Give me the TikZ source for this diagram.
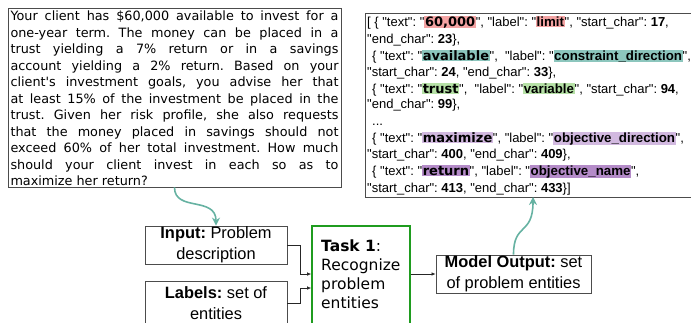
\documentclass[tikz,border=0pt]{standalone}
\usepackage{fontspec}
\newfontfamily\vfont{DejaVu Sans}
\newfontfamily\afont{Liberation Sans}
\usetikzlibrary{arrows.meta,positioning}

\definecolor{pinkhl}{HTML}{F4A3A3}
\definecolor{tealhl}{HTML}{8CC6BD}
\definecolor{greenhl}{HTML}{B6E1A6}
\definecolor{lilachl}{HTML}{D2B9E0}
\definecolor{purplehl}{HTML}{B48BC8}
\definecolor{arrowteal}{HTML}{66B2A2}
\definecolor{taskgreen}{HTML}{1F9C1F}

% highlighted span: text value and label value
\newcommand{\hlv}[2]{{\setlength{\fboxsep}{0.6pt}\colorbox{#1}{\vfont\bfseries\fontsize{13}{13}\selectfont #2}}}
\newcommand{\hla}[2]{{\setlength{\fboxsep}{0.6pt}\colorbox{#1}{\afont\bfseries\fontsize{13.3}{13}\selectfont #2}}}
\newcommand{\num}[1]{\textbf{#1}}

\tikzset{
  plainbox/.style={draw=black!70, line width=0.8pt, inner sep=0pt},
  boxtext/.style={font=\afont\fontsize{16.4}{20.5}\selectfont, align=center},
  jsonline/.style={anchor=base west, inner sep=0pt, font=\afont\fontsize{13}{13}\selectfont},
  tealarrow/.style={draw=arrowteal, line width=1.6pt, -{Stealth[length=8pt,width=8pt]}},
  flowarrow/.style={draw=black!85, line width=0.7pt, -{Latex[length=4pt,width=3.5pt]}}
}

\begin{document}
\frenchspacing
\begin{tikzpicture}[x=1pt,y=-1pt]
  \clip (0,0) rectangle (691,322);

  % problem statement
  \node (problem) [plainbox, minimum width=333pt, minimum height=179pt] at (174.5,97.5) {};
  \node (problemtext) [inner sep=0pt, text width=328pt, align=justify,
    font=\vfont\fontsize{12.8}{16.5}\selectfont] at (174.5,98.5) {%
    Your client has \$60,000 available to invest for a\linebreak
    one-year term. The money can be placed in a\linebreak
    trust yielding a 7\% return or in a savings\linebreak
    account yielding a 2\% return. Based on your\linebreak
    client's investment goals, you advise her that\linebreak
    at least 15\% of the investment be placed in the\linebreak
    trust. Given her risk profile, she also requests\linebreak
    that the money placed in savings should not\linebreak
    exceed 60\% of her total investment. How much\linebreak
    should your client invest in each so as to\linebreak
    maximize her return?};

  % json output
  \node (json) [plainbox, minimum width=360pt, minimum height=184pt, anchor=north west] at (365,13) {};
  \node (j1) [jsonline] at (367,26) {[ \{ "text": "\hlv{pinkhl}{60,000}", "label": "\hla{pinkhl}{limit}", "start\_char": \num{17},};
  \node (j2) [jsonline] at (367,43) {"end\_char": \num{23}\},};
  \node (j3) [jsonline] at (372,60) {\{ "text": "\hlv{tealhl}{available}",\ \ "label": "\hla{tealhl}{constraint\_direction}",};
  \node (j4) [jsonline] at (367,76) {"start\_char": \num{24}, "end\_char": \num{33}\},};
  \node (j5) [jsonline] at (372,93) {\{ "text": "\hlv{greenhl}{trust}",\ \ "label": "\hla{greenhl}{variable}", "start\_char": \num{94},};
  \node (j6) [jsonline] at (367,108) {"end\_char": \num{99}\},};
  \node (j7) [jsonline] at (372,125) {...};
  \node (j8) [jsonline] at (372,142) {\{ "text": "\hlv{lilachl}{maximize}", "label": "\hla{lilachl}{objective\_direction}",};
  \node (j9) [jsonline] at (367,158) {"start\_char": \num{400}, "end\_char": \num{409}\},};
  \node (j10) [jsonline] at (372,175) {\{ "text": "\hlv{purplehl}{return}", "label": "\hla{purplehl}{objective\_name}",};
  \node (j11) [jsonline] at (367,192) {"start\_char": \num{413}, "end\_char": \num{433}\}]};
  \coordinate (jsonin) at (533,197);

  % pipeline
  \node (input) [plainbox, boxtext, minimum width=142pt, minimum height=38pt] at (216,245) {\textbf{Input:} Problem\\description};
  \node (labels) [plainbox, boxtext, minimum width=142pt, minimum height=44pt] at (216,303) {\textbf{Labels:} set of\\entities};
  \node (task) [draw=taskgreen, line width=1.6pt, inner sep=0pt, minimum width=98pt, minimum height=106pt] at (361,279) {};
  \node (tasktext) [anchor=north west, inner sep=0pt, align=left,
    font=\vfont\fontsize{15.5}{19}\selectfont] at (321,240) {\textbf{Task 1}:\\Recognize\\problem\\entities};
  \node (model) [plainbox, boxtext, minimum width=155pt, minimum height=38pt] at (513.5,274) {\textbf{Model Output:} set\\of problem entities};

  \draw [flowarrow] (input.east) -- ++(13,0) |- ([yshift=5pt]task.west);
  \draw [flowarrow] (labels.east) -- ++(13,0) |- ([yshift=-9pt]task.west);
  \draw [flowarrow] (task.east |- model.west) -- (model.west);

  \draw [tealarrow] (problem.south) .. controls (174.5,212) and (216,196) .. (input.north);
  \draw [tealarrow] (model.north) .. controls (513.5,222) and (533,236) .. (jsonin);
\end{tikzpicture}
\end{document}
